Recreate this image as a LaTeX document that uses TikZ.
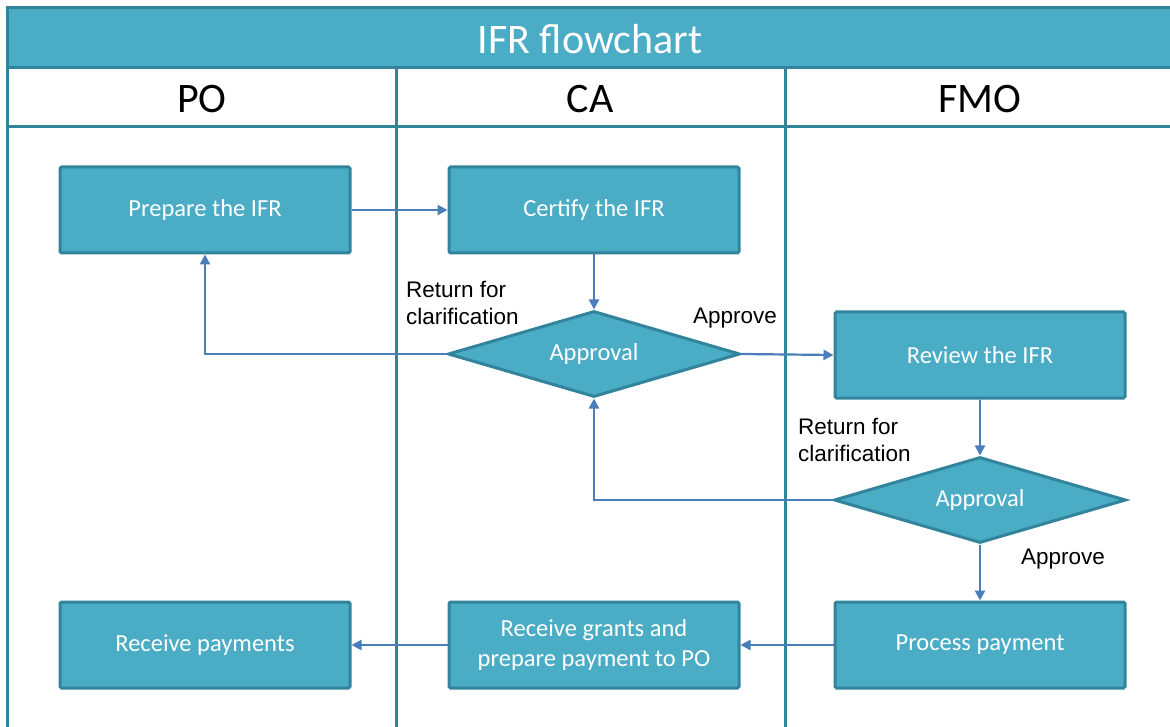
\documentclass[tikz,border=0pt]{standalone}
\usepackage{fontspec}
\setmainfont{Carlito}
\newfontfamily\labfont{Liberation Sans}
\usetikzlibrary{shapes.geometric,arrows.meta}
\definecolor{aq}{HTML}{4BACC6}
\definecolor{aqd}{HTML}{31849B}
\definecolor{arr}{HTML}{4A7EBB}
\begin{document}
\begin{tikzpicture}[x=1pt,y=-1pt,
 proc/.style={draw=aqd, line width=3pt, fill=aq, rounded corners=1.5pt, minimum width=290pt, minimum height=86pt, text=white, font=\fontsize{24.5}{30}\selectfont, align=center, inner sep=0pt},
 dec/.style={diamond, aspect=3.4, draw=aqd, line width=3pt, fill=aq, minimum width=292pt, minimum height=86pt, text=white, font=\fontsize{24.5}{30}\selectfont, inner sep=0pt},
 conn/.style={draw=arr, line width=2.2pt, -{Triangle[length=10pt,width=10pt]}},
 lbl/.style={font=\labfont\fontsize{22.5}{27}\selectfont, align=left, inner sep=0pt, anchor=north west},
 lane/.style={draw=aqd, line width=3pt},
 hdr/.style={font=\fontsize{42}{46}\selectfont, inner sep=0pt}
]
\useasboundingbox (0,0) rectangle (1170,727);
\clip (0,0) rectangle (1170,727);
% frame
\path[fill=aq, draw=aqd, line width=3pt] (7,8) rectangle (1190,68);
\node[font=\fontsize{42}{46}\selectfont, text=white, inner sep=0pt] (title) at (590,39) {IFR flowchart};
\draw[lane] (7,127) -- (1190,127);
\draw[lane] (7,68) -- (7,740);
\draw[lane] (396,68) -- (396,740);
\draw[lane] (785,68) -- (785,740);
\node[hdr] (hpo) at (202,99) {PO};
\node[hdr] (hca) at (590,99) {CA};
\node[hdr] (hfmo) at (980,99) {FMO};
% nodes
\node[proc] (prep) at (205,210) {Prepare the IFR};
\node[proc] (cert) at (594,210) {Certify the IFR};
\node[dec] (ap1) at (594,354) {Approval};
\node[proc] (rev) at (980,355) {Review the IFR};
\node[dec] (ap2) at (980,500) {Approval};
\node[proc] (procp) at (980,645) {Process payment};
\node[proc] (grant) at (594,645) {Receive grants and\\prepare payment to PO};
\node[proc] (recv) at (205,645) {Receive payments};
% connectors
\draw[conn] (prep) -- (cert);
\draw[conn] (cert) -- (ap1);
\draw[conn] (ap1.west) -| (prep.south);
\draw[conn] (ap1.east) -- (rev.west);
\draw[conn] (rev) -- (ap2);
\draw[conn] (ap2.west) -| (ap1.south);
\draw[conn] (ap2) -- (procp);
\draw[conn] (procp) -- (grant);
\draw[conn] (grant) -- (recv);
% labels
\node[lbl] (l1) at (406,281) {Return for\\clarification};
\node[lbl] (l2) at (693,308) {Approve};
\node[lbl] (l3) at (798,418) {Return for\\clarification};
\node[lbl] (l4) at (1021,549) {Approve};
\end{tikzpicture}
\end{document}
